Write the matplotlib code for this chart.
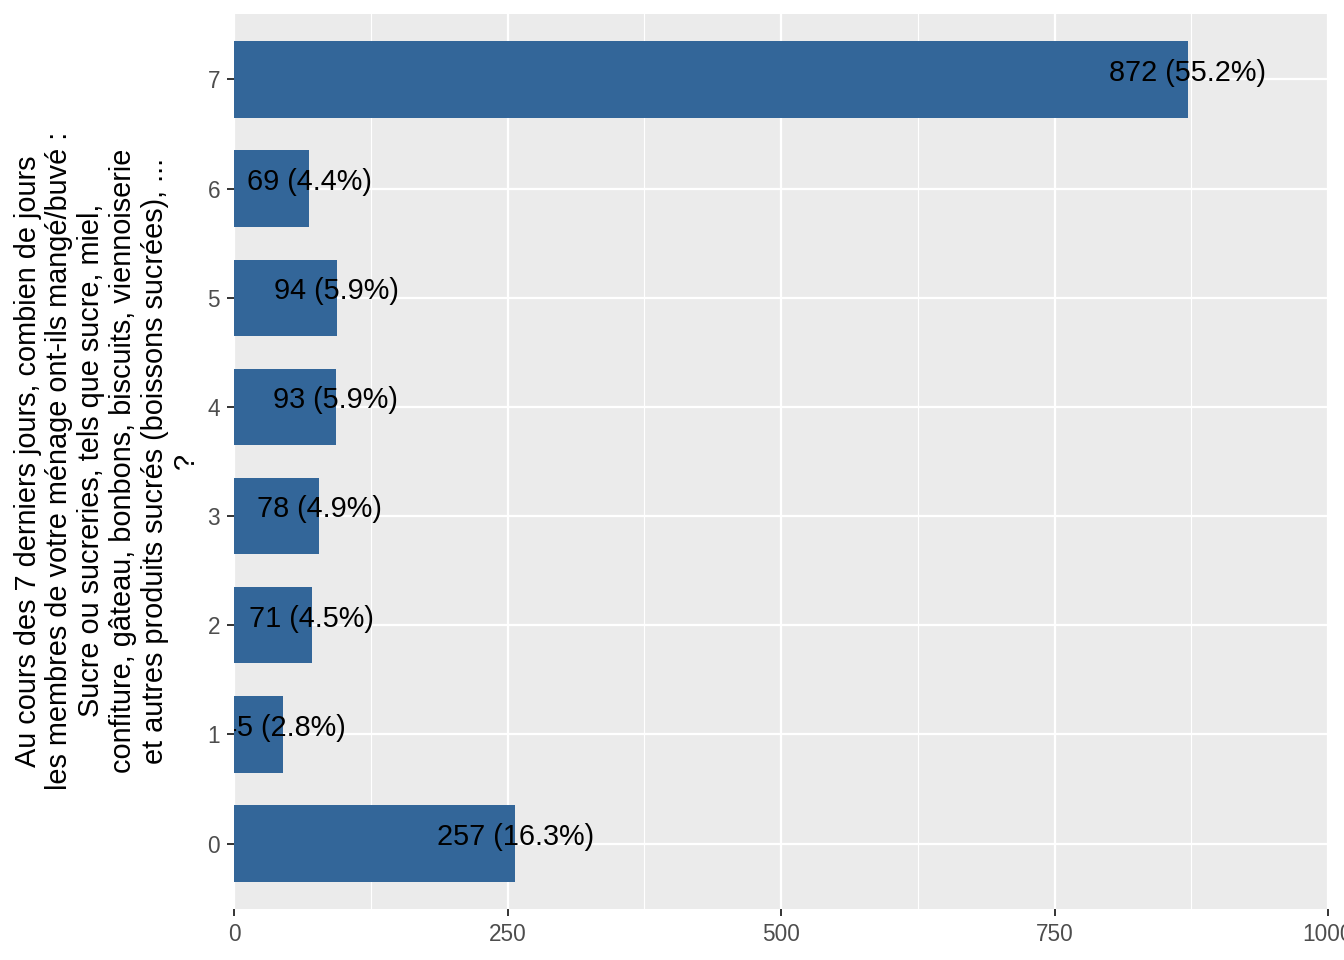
import matplotlib
matplotlib.use("Agg")
import matplotlib.pyplot as plt
from matplotlib.ticker import MultipleLocator

# data
days = ["0", "1", "2", "3", "4", "5", "6", "7"]
counts = [257, 45, 71, 78, 93, 94, 69, 872]
# percentages as printed on the chart
pcts = [16.3, 2.8, 4.5, 4.9, 5.9, 5.9, 4.4, 55.2]

ylabel_text = (
    "Au cours des 7 derniers jours, combien de jours\n"
    "les membres de votre ménage ont-ils mangé/buvé :\n"
    "Sucre ou sucreries, tels que sucre, miel,\n"
    "confiture, gâteau, bonbons, biscuits, viennoiserie\n"
    "et autres produits sucrés (boissons sucrées), ...\n"
    "?"
)

plt.rcParams['font.family'] = ['Liberation Sans', 'DejaVu Sans']

ypos = list(range(len(days)))

fig = plt.figure(figsize=(13.44, 9.6), dpi=100)
ax = fig.add_axes([234 / 1344, 51 / 960, 1094 / 1344, 895 / 960])
ax.set_facecolor('#EBEBEB')

ax.barh(ypos, counts, height=0.7, color='#336699', zorder=3)

for y, c, p in zip(ypos, counts, pcts):
    t = ax.text(c, y - 0.012, f"{c} ({p:.1f}%)", ha='center', va='baseline',
                fontsize=20.8, color='black', zorder=4)
    t.set_clip_on(True)

ax.set_xlim(0, 1000)
ax.set_ylim(-0.6, 7.6)
ax.xaxis.set_major_locator(MultipleLocator(250))
ax.xaxis.set_minor_locator(MultipleLocator(125))
ax.set_yticks(ypos)
ax.set_yticklabels(days)

ax.grid(True, which='major', color='white', linewidth=1.6, zorder=1)
ax.grid(True, which='minor', axis='x', color='white', linewidth=0.8, zorder=1)
ax.tick_params(which='minor', length=0)
ax.tick_params(which='major', length=5, width=1.4, color='#333333', labelcolor='#4D4D4D',
               labelsize=16.3)
ax.tick_params(axis='y', pad=5)
ax.tick_params(axis='x', pad=5)
for s in ax.spines.values():
    s.set_visible(False)

fig.text(107 / 1344, 0.52, ylabel_text, rotation=90, ha='center', va='center',
         multialignment='center', fontsize=20.8, linespacing=1.17, color='black')

fig.savefig("out.png", dpi=100)
